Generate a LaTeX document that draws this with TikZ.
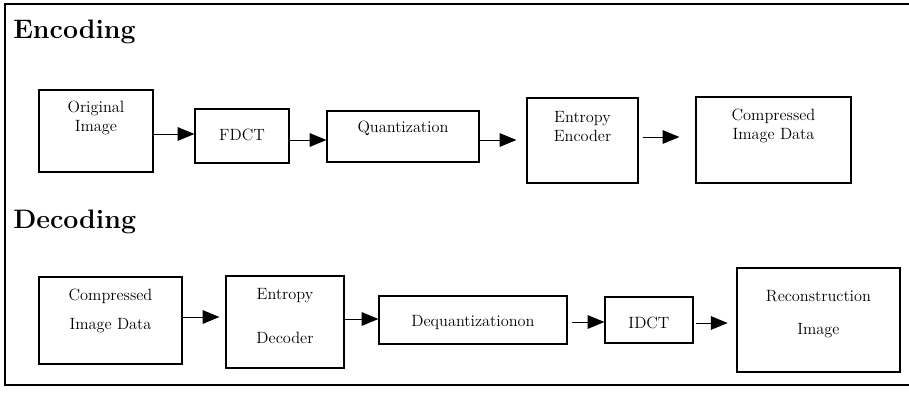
\documentclass[tikz,border=0pt]{standalone}
\usepackage{tikz}
\usetikzlibrary{arrows.meta}
\usetikzlibrary{fit}
\tikzset{
  stagebox/.style={draw, thick, inner sep=0pt},
  stagetext/.style={align=center, font=\fontsize{11.6}{14}\selectfont, inner sep=0pt},
  heading/.style={anchor=base west, font=\fontsize{19}{22}\selectfont\bfseries, inner sep=0pt},
  flow/.style={-{Triangle[length=0.42cm,width=0.34cm]}, line width=0.7pt}
}
% box from corner to corner, text centred at height #6
\newcommand{\stage}[7]{\node[stagebox, fit={(#2,#3) (#4,#5)}] (#1) {};
\node[stagetext] (#1t) at (#1.center |- 0,#6) {#7};}

\begin{document}
\begin{tikzpicture}[x=0.025cm, y=-0.025cm]
\useasboundingbox (0,0) rectangle (909,396);
% frame
\draw[line width=0.8pt] (915,4) -- (5,4) -- (5,385) -- (915,385);
% headings
\node[heading] (enc) at (13,38) {Encoding};
\node[heading] (dec) at (13,228) {Decoding};
% encoding row
\stage{orig}{39}{90}{153}{172}{118}{Original\\Image}
\stage{fdct}{195}{109}{289}{163}{135}{FDCT}
\stage{quant}{327}{111}{479}{162}{128}{Quantization}
\stage{eenc}{527}{98}{638}{183}{126.5}{Entropy\\Encoder}
\stage{cdata}{696}{97}{851}{183}{126}{Compressed\\Image Data}
% encoding arrows
\draw[flow] (orig.east |- 0,134) -- (fdct.west |- 0,134);
\draw[flow] (fdct.east |- 0,140) -- (quant.west |- 0,140);
\draw[flow] (quant.east |- 0,140) -- ([xshift=-0.25cm]eenc.west |- 0,140);
\draw[flow] ([xshift=0.1cm]eenc.east |- 0,137) -- ([xshift=-0.4cm]cdata.west |- 0,137);
% decoding row
\stage{cdin}{39}{277}{182}{364}{311}{Compressed\\[7pt]Image Data}
\stage{edec}{226}{276}{344}{368}{316}{Entropy\\[17pt]Decoder}
\stage{dequant}{379}{296}{567}{344}{323}{Dequantizationon}
\stage{idct}{605}{297}{693}{343}{323}{IDCT}
\stage{recon}{737}{268}{900}{372}{314}{Reconstruction\\[10pt]Image}
% decoding arrows
\draw[flow] (cdin.east |- 0,317) -- ([xshift=-0.15cm]edec.west |- 0,317);
\draw[flow] (edec.east |- 0,319) -- (dequant.west |- 0,319);
\draw[flow] ([xshift=0.12cm]dequant.east |- 0,322) -- (idct.west |- 0,322);
\draw[flow] ([xshift=0.05cm]idct.east |- 0,323) -- ([xshift=-0.22cm]recon.west |- 0,323);
\end{tikzpicture}
\end{document}
